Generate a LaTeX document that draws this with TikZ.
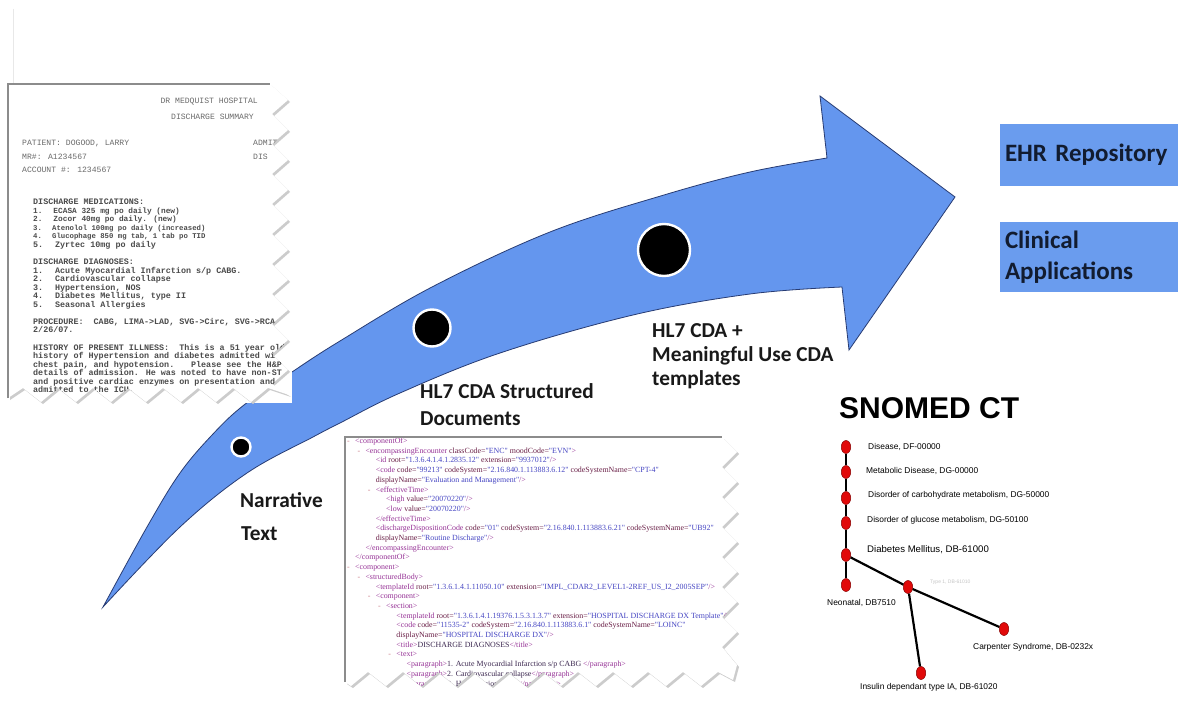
\documentclass[tikz,border=0pt]{standalone}
\usepackage{fontspec}
\setmainfont{Carlito}
\newfontfamily\monofont{Liberation Mono}
\newfontfamily\xmlfont{Liberation Serif}
\newfontfamily\arialfont{Liberation Sans}
\usetikzlibrary{shapes.geometric}
\definecolor{arrowblue}{RGB}{100,150,238}
\definecolor{arrownavy}{RGB}{40,60,115}
\definecolor{boxblue}{RGB}{106,156,238}
\definecolor{navytext}{RGB}{18,28,48}
\definecolor{labeltext}{RGB}{25,25,25}
\definecolor{doctext}{RGB}{75,75,75}
\definecolor{dochead}{RGB}{105,105,105}
\definecolor{docborder}{RGB}{140,140,140}
\definecolor{xtag}{RGB}{150,50,150}
\definecolor{xatt}{RGB}{105,30,70}
\definecolor{xval}{RGB}{70,70,195}
\definecolor{xdash}{RGB}{200,120,130}
\definecolor{xtxt}{RGB}{60,40,80}
\definecolor{nodered}{RGB}{225,10,10}
\newcommand\xtg[1]{\textcolor{xtag}{#1}}
\newcommand\xat[2]{\ \textcolor{xatt}{#1=}\textcolor{xval}{"#2"}}
\newcommand\xatn[2]{\textcolor{xatt}{#1=}\textcolor{xval}{"#2"}}
\newcommand\xdash{\makebox[8pt][l]{\textcolor{xdash}{-}}}
\def\docApath{(8,84) -- (270,84) \foreach \k in {0,...,9}{ -- (288,{100+30*\k}) -- (272,{114+30*\k})} -- (289,395) \foreach \k in {0,...,6}{ -- ({268-35*\k},388) -- ({251-35*\k},402)} -- (23,388) -- (8,398) -- cycle}
\def\docBpath{(345,437) -- (722,437) \foreach \k in {0,...,6}{ -- (737,{452+30*\k}) -- (722,{467+30*\k})} -- (737,665) -- (733,680) \foreach \k in {0,...,10}{ -- ({718-35*\k},672) -- ({701-35*\k},686)} -- (345,682) -- cycle}
\tikzset{
  arrowfill/.style={fill=arrowblue, draw=arrownavy, line width=0.8},
  bigdot/.style={circle, fill=black, draw=white, line width=2.4, inner sep=0},
  lbl/.style={font=\fontsize{21.3}{24}\selectfont\bfseries, text=labeltext, inner sep=0, anchor=base west},
  ehrbox/.style={fill=boxblue, minimum width=178, text width=168, inner xsep=5, inner ysep=0, align=left, font=\fontsize{25}{30.5}\selectfont\bfseries, text=navytext},
  dhead/.style={font=\monofont\fontsize{8.1}{9}\selectfont, text=dochead, anchor=base west, inner sep=0},
  dtxt/.style={font=\monofont\bfseries\fontsize{8.4}{9}\selectfont, text=doctext, anchor=base west, inner sep=0},
  xml/.style={font=\xmlfont\fontsize{7.9}{8}\selectfont, anchor=base west, inner sep=0},
  rnode/.style={ellipse, fill=nodered, draw=nodered!60!black, line width=0.5, minimum width=9.5, minimum height=13, inner sep=0},
  tline/.style={line width=2.2, black},
  slbl/.style={font=\arialfont\fontsize{8.4}{9}\selectfont, text=black, anchor=west, inner sep=0},
}
\begin{document}
\begin{tikzpicture}[x=1pt,y=-1pt]
\useasboundingbox (0,0) rectangle (1191,711);
\fill[white] (0,0) rectangle (1191,711);
\draw[gray!18, line width=1] (13,9) -- (13,84);

% curved arrow
\path[arrowfill] plot[smooth, tension=0.6] coordinates {(103,607) (147,527) (180,473) (213,434) (244,405) (292,372) (340,341) (432,287) (550,232) (664,195) (750,172) (827,158)}
  -- (820,96) -- (955,197) -- (849,350) --
  plot[smooth, tension=0.6] coordinates {(842,287) (750,294) (633,315) (500,353) (400,393) (340,423) (313,437) (247,473) (180,527) (103,607)} -- cycle;

\node[bigdot, minimum size=19] (c1) at (241,447) {};
\node[bigdot, minimum size=37] (c2) at (432,328) {};
\node[bigdot, minimum size=52] (c3) at (664,250) {};

% discharge summary document
\fill[white] (0,84) rectangle (292,403);
\begin{scope}[shift={(2,2)}]
\fill[gray!40] \docApath;
\end{scope}
\fill[white] \docApath;
\begin{scope}
\clip \docApath;
\node[dhead, anchor=base east] (h1) at (258,104) {DR MEDQUIST HOSPITAL};
\node[dhead, anchor=base east] (h2) at (254,120) {DISCHARGE SUMMARY};
\node[dhead] (h3) at (22,146) {PATIENT: DOGOOD, LARRY};
\node[dhead] (h3b) at (253,146) {ADMIT};
\node[dhead] (h4) at (22,160) {MR\#: A1234567};
\node[dhead] (h4b) at (253,160) {DIS};
\node[dhead] (h5) at (22,173) {ACCOUNT \#: 1234567};
\node[dtxt] (d0) at (33,204.7) {DISCHARGE MEDICATIONS:};
\node[dtxt, font=\monofont\bfseries\fontsize{7.8}{9}\selectfont] (d1) at (33,213.25) {1.~ ECASA 325 mg po daily (new)};
\node[dtxt, font=\monofont\bfseries\fontsize{7.8}{9}\selectfont] (d2) at (33,221.8) {2.~ Zocor 40mg po daily. (new)};
\node[dtxt, font=\monofont\bfseries\fontsize{7.3}{9}\selectfont] (d3) at (33,230.35) {3.~ Atenolol 100mg po daily (increased)};
\node[dtxt, font=\monofont\bfseries\fontsize{7.3}{9}\selectfont] (d4) at (33,238.9) {4.~ Glucophage 850 mg tab, 1 tab po TID};
\node[dtxt] (d5) at (33,247.45) {5.~ Zyrtec 10mg po daily};
\node[dtxt] (d7) at (33,264.55) {DISCHARGE DIAGNOSES:};
\node[dtxt] (d8) at (33,273.1) {1.~ Acute Myocardial Infarction s/p CABG.};
\node[dtxt] (d9) at (33,281.65) {2.~ Cardiovascular collapse};
\node[dtxt] (d10) at (33,290.2) {3.~ Hypertension, NOS};
\node[dtxt] (d11) at (33,298.75) {4.~ Diabetes Mellitus, type II};
\node[dtxt] (d12) at (33,307.3) {5.~ Seasonal Allergies};
\node[dtxt] (d14) at (33,324.4) {PROCEDURE:~ CABG, LIMA->LAD, SVG->Circ, SVG->RCA on};
\node[dtxt] (d15) at (33,332.95) {2/26/07.};
\node[dtxt] (d17) at (33,350.05) {HISTORY OF PRESENT ILLNESS:~ This is a 51 year old male};
\node[dtxt] (d18) at (33,358.6) {history of Hypertension and diabetes admitted with};
\node[dtxt] (d19) at (33,367.15) {chest pain, and hypotension.~~ Please see the H\&P for};
\node[dtxt] (d20) at (33,375.7) {details of admission. He was noted to have non-ST};
\node[dtxt] (d21) at (33,384.25) {and positive cardiac enzymes on presentation and};
\node[dtxt] (d22) at (33,392.8) {admitted to the ICU.};
\end{scope}
\draw[docborder, line width=1.3] (8,398) -- (8,84) -- (270,84);

% CDA XML document
\begin{scope}[shift={(2,2)}]
\fill[gray!40] \docBpath;
\end{scope}
\fill[white] \docBpath;
\begin{scope}
\clip \docBpath;
\node[xml] (x1) at (347,443.5) {\xdash\xtg{<componentOf>}};
\node[xml] (x2) at (357.3,453.2) {\xdash\xtg{<encompassingEncounter}\xat{classCode}{ENC}\xat{moodCode}{EVN}\xtg{>}};
\node[xml] (x3) at (375.6,462.9) {\xtg{<id}\xat{root}{1.3.6.4.1.4.1.2835.12}\xat{extension}{9937012}\xtg{/>}};
\node[xml] (x4) at (375.6,472.6) {\xtg{<code}\xat{code}{99213}\xat{codeSystem}{2.16.840.1.113883.6.12}\xat{codeSystemName}{CPT-4}};
\node[xml] (x5) at (375.6,482.3) {\xatn{displayName}{Evaluation and Management}\xtg{/>}};
\node[xml] (x6) at (367.6,492) {\xdash\xtg{<effectiveTime>}};
\node[xml] (x7) at (385.9,501.7) {\xtg{<high}\xat{value}{20070220}\xtg{/>}};
\node[xml] (x8) at (385.9,511.4) {\xtg{<low}\xat{value}{20070220}\xtg{/>}};
\node[xml] (x9) at (375.6,521.1) {\xtg{</effectiveTime>}};
\node[xml] (x10) at (375.6,530.8) {\xtg{<dischargeDispositionCode}\xat{code}{01}\xat{codeSystem}{2.16.840.1.113883.6.21}\xat{codeSystemName}{UB92}};
\node[xml] (x11) at (375.6,540.5) {\xatn{displayName}{Routine Discharge}\xtg{/>}};
\node[xml] (x12) at (365.3,550.2) {\xtg{</encompassingEncounter>}};
\node[xml] (x13) at (355,559.9) {\xtg{</componentOf>}};
\node[xml] (x14) at (347,569.6) {\xdash\xtg{<component>}};
\node[xml] (x15) at (357.3,579.3) {\xdash\xtg{<structuredBody>}};
\node[xml] (x16) at (375.6,589) {\xtg{<templateId}\xat{root}{1.3.6.1.4.1.11050.10}\xat{extension}{IMPL\_CDAR2\_LEVEL1-2REF\_US\_I2\_2005SEP}\xtg{/>}};
\node[xml] (x17) at (367.6,598.7) {\xdash\xtg{<component>}};
\node[xml] (x18) at (377.9,608.4) {\xdash\xtg{<section>}};
\node[xml] (x19) at (396.2,618.1) {\xtg{<templateId}\xat{root}{1.3.6.1.4.1.19376.1.5.3.1.3.7}\xat{extension}{HOSPITAL DISCHARGE DX Template}\xtg{/>}};
\node[xml] (x20) at (396.2,627.8) {\xtg{<code}\xat{code}{11535-2}\xat{codeSystem}{2.16.840.1.113883.6.1}\xat{codeSystemName}{LOINC}};
\node[xml] (x21) at (396.2,637.5) {\xatn{displayName}{HOSPITAL DISCHARGE DX}\xtg{/>}};
\node[xml] (x22) at (396.2,647.2) {\xtg{<title>}\textcolor{xtxt}{DISCHARGE DIAGNOSES}\xtg{</title>}};
\node[xml] (x23) at (388.2,656.9) {\xdash\xtg{<text>}};
\node[xml] (x24) at (406.5,666.6) {\xtg{<paragraph>}\textcolor{xtxt}{1. Acute Myocardial Infarction s/p CABG }\xtg{</paragraph>}};
\node[xml] (x25) at (406.5,676.3) {\xtg{<paragraph>}\textcolor{xtxt}{2. Cardiovascular collapse}\xtg{</paragraph>}};
\node[xml] (x26) at (406.5,686) {\xtg{<paragraph>}\textcolor{xtxt}{3. Hypertension, NOS}\xtg{</paragraph>}};
\end{scope}
\draw[docborder, line width=1.2] (345,682) -- (345,437) -- (722,437);

% stage labels
\node[lbl] (narr1) at (240,507) {Narrative};
\node[lbl] (narr2) at (241,540) {Text};
\node[lbl] (cda1) at (420,398) {HL7 CDA Structured};
\node[lbl] (cda2) at (420,425) {Documents};
\node[lbl] (mu1) at (652,337) {HL7 CDA +};
\node[lbl] (mu2) at (652,361) {Meaningful Use CDA};
\node[lbl] (mu3) at (652,385) {templates};

% target boxes
\node[ehrbox, minimum height=62] (ehr) at (1089,155) {EHR Repository};
\node[ehrbox, minimum height=70] (clin) at (1089,257) {Clinical\\Applications};

% SNOMED CT hierarchy
\node[anchor=base west, inner sep=0, font=\arialfont\bfseries\fontsize{30}{32}\selectfont] (snomed) at (839,418) {SNOMED CT};
\node[rnode] (n1) at (846,447) {};
\node[rnode] (n2) at (846,472) {};
\node[rnode] (n3) at (846,498) {};
\node[rnode] (n4) at (846,523) {};
\node[rnode] (n5) at (846,555) {};
\node[rnode] (n6) at (846,585) {};
\node[rnode] (n7) at (908,587) {};
\node[rnode] (n8) at (1004,629) {};
\node[rnode] (n9) at (921,673) {};
\draw[tline] (n1) -- (n2);
\draw[tline] (n2) -- (n3);
\draw[tline] (n3) -- (n4);
\draw[tline] (n4) -- (n5);
\draw[tline] (n5) -- (n6);
\draw[tline] (n5) -- (n7);
\draw[tline] (n7) -- (n8);
\draw[tline] (n7) -- (n9);
\node[slbl] (t1) at (868,447) {Disease, DF-00000};
\node[slbl] (t2) at (866,471) {Metabolic Disease, DG-00000};
\node[slbl] (t3) at (868,495) {Disorder of carbohydrate metabolism, DG-50000};
\node[slbl] (t4) at (867,520) {Disorder of glucose metabolism, DG-50100};
\node[slbl, font=\arialfont\fontsize{9.6}{10}\selectfont] (t5) at (867,550) {Diabetes Mellitus, DB-61000};
\node[slbl] (t6) at (827,603) {Neonatal, DB7510};
\node[slbl, font=\arialfont\fontsize{5}{6}\selectfont, text=gray!45] (t7) at (930,582) {Type 1, DB-61010};
\node[slbl] (t8) at (973,647) {Carpenter Syndrome, DB-0232x};
\node[slbl] (t9) at (860,687) {Insulin dependant type IA, DB-61020};
\end{tikzpicture}
\end{document}
